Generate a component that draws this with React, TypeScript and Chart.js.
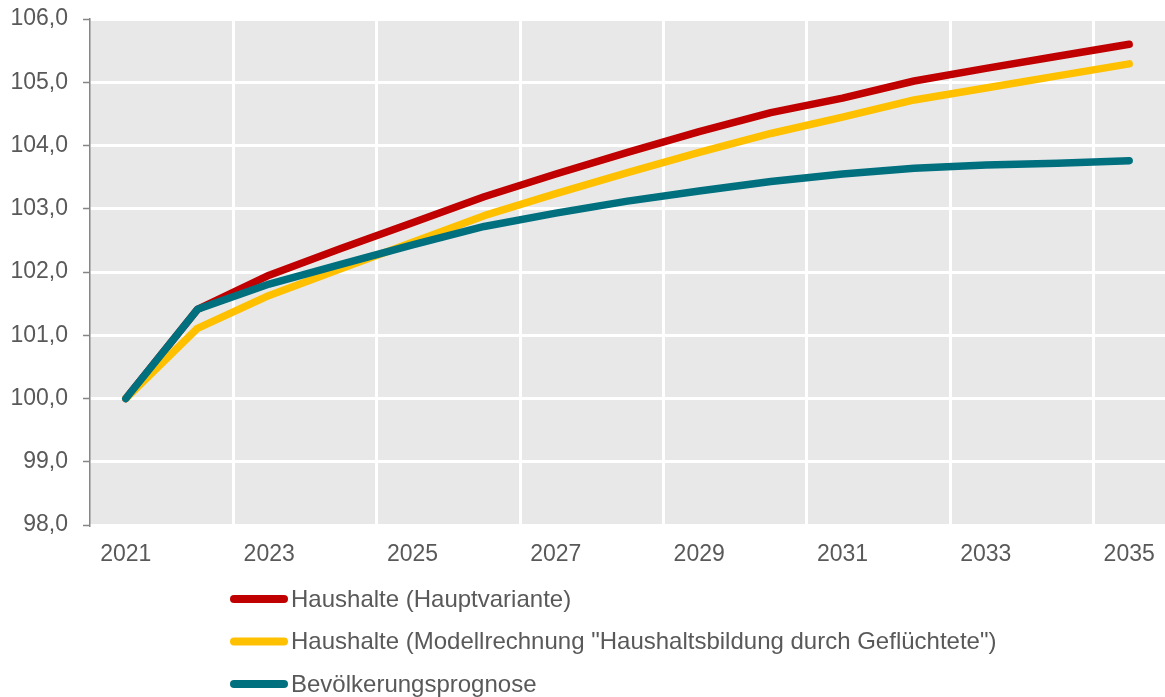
import React, { useEffect, useRef } from "react";
import { Chart, registerables } from "chart.js";

Chart.register(...registerables);

// ---- data ----
const years = [
  "2021", "2022", "2023", "2024", "2025", "2026", "2027", "2028",
  "2029", "2030", "2031", "2032", "2033", "2034", "2035",
];

const hauptvariante = [
  100.0, 101.41, 101.95, 102.37, 102.78, 103.19, 103.55, 103.89,
  104.22, 104.52, 104.75, 105.02, 105.22, 105.41, 105.6,
];

const modellrechnung = [
  100.0, 101.11, 101.63, 102.05, 102.47, 102.89, 103.24, 103.57,
  103.89, 104.19, 104.45, 104.72, 104.91, 105.1, 105.29,
];

const bevoelkerung = [
  100.0, 101.41, 101.81, 102.12, 102.43, 102.72, 102.93, 103.12,
  103.28, 103.43, 103.55, 103.64, 103.69, 103.72, 103.76,
];

const seriesLabels = [
  "Haushalte (Hauptvariante)",
  'Haushalte (Modellrechnung "Haushaltsbildung durch Geflüchtete")',
  "Bevölkerungsprognose",
];

const yMin = 98;
const yMax = 106;
const yStep = 1;

// ---- styles ----
const FONT = "'Liberation Sans', Arial, sans-serif";
const TEXT = "#595959";
const AXIS = "#868686";
const PLOT_BG = "#E8E8E8";
const COLORS = ["#C00000", "#FFC000", "#00707F"];
const LINE_W = 7.5;

export default function App() {
  const ref = useRef<HTMLCanvasElement>(null);

  useEffect(() => {
    document.body.style.margin = "0";
    const canvas = ref.current;
    if (!canvas) return;

    const bgPlugin = {
      id: "plotBg",
      beforeDraw(chart: any) {
        const { ctx, chartArea: a } = chart;
        ctx.save();
        ctx.fillStyle = PLOT_BG;
        ctx.fillRect(a.left, a.top, a.right - a.left, a.bottom - a.top);
        ctx.restore();
      },
    };

    const legendPlugin = {
      id: "vLegend",
      afterDraw(chart: any) {
        const ctx = chart.ctx;
        const x0 = 230;
        const top = chart.scales.x.bottom;
        ctx.save();
        chart.data.datasets.forEach((ds: any, i: number) => {
          const y = top + 32 + i * 42.5;
          ctx.strokeStyle = ds.borderColor;
          ctx.lineWidth = 8;
          ctx.lineCap = "round";
          ctx.beginPath();
          ctx.moveTo(x0 + 4, y);
          ctx.lineTo(x0 + 58 - 4, y);
          ctx.stroke();
          ctx.fillStyle = TEXT;
          ctx.font = `24px ${FONT}`;
          ctx.textBaseline = "middle";
          ctx.textAlign = "left";
          ctx.fillText(ds.label, x0 + 61, y + 1);
        });
        ctx.restore();
      },
    };

    const seriesData = [hauptvariante, modellrechnung, bevoelkerung];
    const orders = [3, 2, 1];

    const chart = new Chart(canvas, {
      type: "line",
      data: {
        labels: years,
        datasets: seriesData.map((d, i) => ({
          label: seriesLabels[i],
          data: d,
          borderColor: COLORS[i],
          backgroundColor: COLORS[i],
          borderWidth: LINE_W,
          borderCapStyle: "round",
          borderJoinStyle: "round",
          pointRadius: 0,
          pointHoverRadius: 0,
          tension: 0,
          fill: false,
          order: orders[i],
        })),
      },
      options: {
        responsive: false,
        animation: false,
        layout: { autoPadding: false, padding: { top: 19, left: 0, right: 0, bottom: 130 } },
        plugins: {
          legend: { display: false },
          tooltip: { enabled: false },
        },
        scales: {
          x: {
            type: "category",
            offset: true,
            afterFit(scale: any) {
              scale.height = 42;
              scale.paddingLeft = 0;
              scale.paddingRight = 0;
            },
            border: { display: false },
            grid: {
              offset: true,
              drawTicks: false,
              lineWidth: 3,
              color: (ctx: any) =>
                typeof ctx.index === "number" && ctx.index > 0 && ctx.index % 2 === 0
                  ? "#FFFFFF"
                  : "rgba(0,0,0,0)",
            },
            ticks: {
              autoSkip: false,
              maxRotation: 0,
              padding: 16,
              color: TEXT,
              font: { family: FONT, size: 23 },
              callback: (_v: any, idx: number) => (idx % 2 === 0 ? years[idx] : ""),
            },
          },
          y: {
            min: yMin,
            max: yMax,
            afterFit(scale: any) {
              scale.width = 90;
              scale.paddingTop = 0;
              scale.paddingBottom = 0;
            },
            border: { display: true, color: AXIS, width: 1.5 },
            grid: {
              color: "#FFFFFF",
              lineWidth: 3,
              drawTicks: true,
              tickLength: 7,
              tickColor: AXIS,
              tickWidth: 1.5,
            },
            ticks: {
              stepSize: yStep,
              padding: 15,
              color: TEXT,
              font: { family: FONT, size: 23 },
              callback: (v: any) => Number(v).toFixed(1).replace(".", ","),
            },
          },
        },
      },
      plugins: [bgPlugin, legendPlugin],
    } as any);

    return () => chart.destroy();
  }, []);

  return (
    <div style={{ width: 1165, height: 697 }}>
      <canvas ref={ref} width={1165} height={697} style={{ display: "block" }} />
    </div>
  );
}
